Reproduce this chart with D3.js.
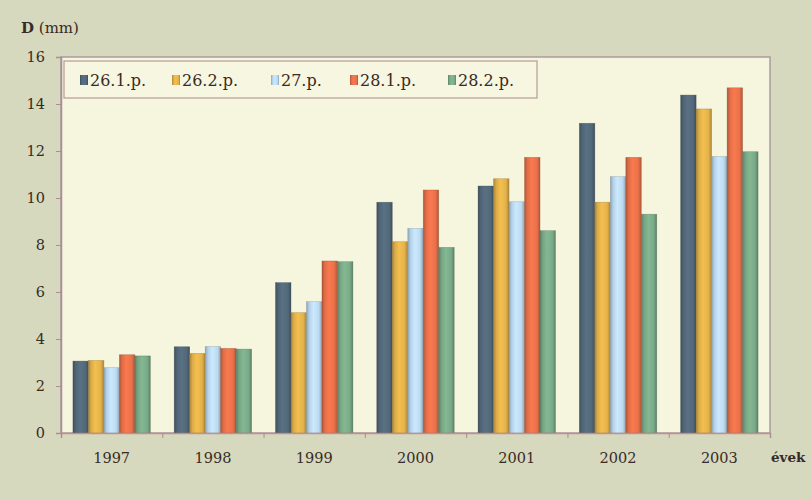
<!DOCTYPE html>
<html>
<head>
<meta charset="utf-8">
<script src="https://cdn.jsdelivr.net/npm/d3@7"></script>
<style>
  body { margin: 0; background: #d6d9bd; }
  svg { display: block; }
</style>
</head>
<body>
<script>
var years = ["1997", "1998", "1999", "2000", "2001", "2002", "2003"];
var series = ["26.1.p.", "26.2.p.", "27.p.", "28.1.p.", "28.2.p."];

// values, one array per series (mm)
var s261 = [3.06, 3.67, 6.40, 9.82, 10.51, 13.18, 14.38];
var s262 = [3.09, 3.39, 5.12, 8.14, 10.82, 9.82, 13.79];
var s27  = [2.78, 3.68, 5.59, 8.71, 9.84, 10.91, 11.77];
var s281 = [3.33, 3.60, 7.32, 10.34, 11.73, 11.73, 14.69];
var s282 = [3.28, 3.57, 7.29, 7.90, 8.61, 9.31, 11.97];

var yTicks = [0, 2, 4, 6, 8, 10, 12, 14, 16];

var values = [s261, s262, s27, s281, s282];
var colors = ["#53697a", "#e3b24a", "#bcd9ef", "#e9714a", "#7aab88"];

var width = 811,
    height = 499;

// plot box (don't call these top/left: window.top is read-only)
var plotL = 61, plotR = 770, plotT = 57, plotB = 433;

var svg = d3.select("body").append("svg")
    .attr("width", width)
    .attr("height", height);

// cylinder-ish shading for each bar colour
var defs = svg.append("defs");
colors.forEach(function(c, i) {
    var g = defs.append("linearGradient")
        .attr("id", "grad" + i)
        .attr("x1", "0%").attr("x2", "100%")
        .attr("y1", "0%").attr("y2", "0%");
    var base = d3.color(c);
    g.append("stop").attr("offset", "0%").attr("stop-color", base.darker(0.8));
    g.append("stop").attr("offset", "18%").attr("stop-color", base.darker(0.1));
    g.append("stop").attr("offset", "45%").attr("stop-color", base.brighter(0.2));
    g.append("stop").attr("offset", "80%").attr("stop-color", base);
    g.append("stop").attr("offset", "100%").attr("stop-color", base.darker(0.8));
});

var x0 = d3.scaleBand()
    .domain(years)
    .range([plotL, plotR])
    .padding(0);

var x1 = d3.scaleBand()
    .domain(series)
    .range([0, x0.bandwidth()])
    .paddingInner(0)
    .paddingOuter(0.77);

var y = d3.scaleLinear()
    .domain([0, 16])
    .range([plotB, plotT]);

// plot area
svg.append("rect")
    .attr("x", plotL)
    .attr("y", plotT)
    .attr("width", plotR - plotL)
    .attr("height", plotB - plotT)
    .attr("fill", "#f6f5de")
    .attr("stroke", "#ab9aa3")
    .attr("stroke-width", 1.5);

// bars
var group = svg.selectAll(".year")
    .data(years)
    .enter().append("g")
    .attr("class", "year")
    .attr("transform", function(d) { return "translate(" + x0(d) + ",0)"; });

group.selectAll("rect")
    .data(function(d, i) {
        return series.map(function(s, j) { return { s: s, j: j, v: values[j][i] }; });
    })
    .enter().append("rect")
    .attr("x", function(d) { return x1(d.s); })
    .attr("width", x1.bandwidth())
    .attr("y", function(d) { return y(d.v); })
    .attr("height", function(d) { return y(0) - y(d.v); })
    .attr("fill", function(d) { return "url(#grad" + d.j + ")"; })
    .attr("stroke", function(d) { return d3.color(colors[d.j]).darker(1.2); })
    .attr("stroke-width", 0.6)
    .attr("stroke-opacity", 0.5);

// y axis
var yAxis = svg.append("g")
    .attr("transform", "translate(" + plotL + ",0)")
    .call(d3.axisLeft(y).tickValues(yTicks).tickSize(5).tickPadding(11));

yAxis.select(".domain").attr("stroke", "#a98e92").attr("stroke-width", 1.5);
yAxis.selectAll(".tick line").attr("stroke", "#a98e92");
yAxis.selectAll(".tick text")
    .attr("font-family", "DejaVu Serif")
    .attr("font-size", 14.5)
    .attr("fill", "#382b26");

// x axis: ticks on the group boundaries, labels in the middle
var xb = d3.scaleLinear().domain([0, years.length]).range([plotL, plotR]);

var xAxis = svg.append("g")
    .attr("transform", "translate(0," + plotB + ")")
    .call(d3.axisBottom(xb).ticks(years.length).tickSize(5).tickFormat(""));

xAxis.select(".domain").attr("stroke", "#c09090").attr("stroke-width", 1.5);
xAxis.selectAll(".tick line").attr("stroke", "#a98e92");

svg.append("g").selectAll("text")
    .data(years)
    .enter().append("text")
    .attr("x", function(d) { return x0(d) + x0.bandwidth() / 2; })
    .attr("y", 463)
    .attr("text-anchor", "middle")
    .attr("font-family", "DejaVu Serif")
    .attr("font-size", 14.5)
    .attr("fill", "#382b26")
    .text(function(d) { return d; });

// axis titles
var ttl = svg.append("text")
    .attr("x", 21)
    .attr("y", 33)
    .attr("font-family", "DejaVu Serif")
    .attr("font-size", 15)
    .attr("fill", "#382b26");
ttl.append("tspan").attr("font-weight", "bold").text("D");
ttl.append("tspan").text(" (mm)");

svg.append("text")
    .attr("x", 771)
    .attr("y", 462)
    .attr("font-family", "DejaVu Serif")
    .attr("font-size", 13.5)
    .attr("font-weight", "bold")
    .attr("fill", "#382b26")
    .text("évek");

// legend
svg.append("rect")
    .attr("x", 64)
    .attr("y", 61)
    .attr("width", 473)
    .attr("height", 37)
    .attr("fill", "#f7f6e0")
    .attr("stroke", "#b89c94")
    .attr("stroke-width", 1.2);

var legendX = [80, 172, 271, 350, 448];

var leg = svg.selectAll(".leg")
    .data(series)
    .enter().append("g")
    .attr("class", "leg")
    .attr("transform", function(d, i) { return "translate(" + legendX[i] + ",80)"; });

leg.append("rect")
    .attr("x", 0)
    .attr("y", -5)
    .attr("width", 8)
    .attr("height", 10)
    .attr("fill", function(d, i) { return "url(#grad" + i + ")"; });

leg.append("text")
    .attr("x", 10)
    .attr("y", 6)
    .attr("font-family", "DejaVu Serif")
    .attr("font-size", 16)
    .attr("fill", "#382b26")
    .text(function(d) { return d; });
</script>
</body>
</html>
